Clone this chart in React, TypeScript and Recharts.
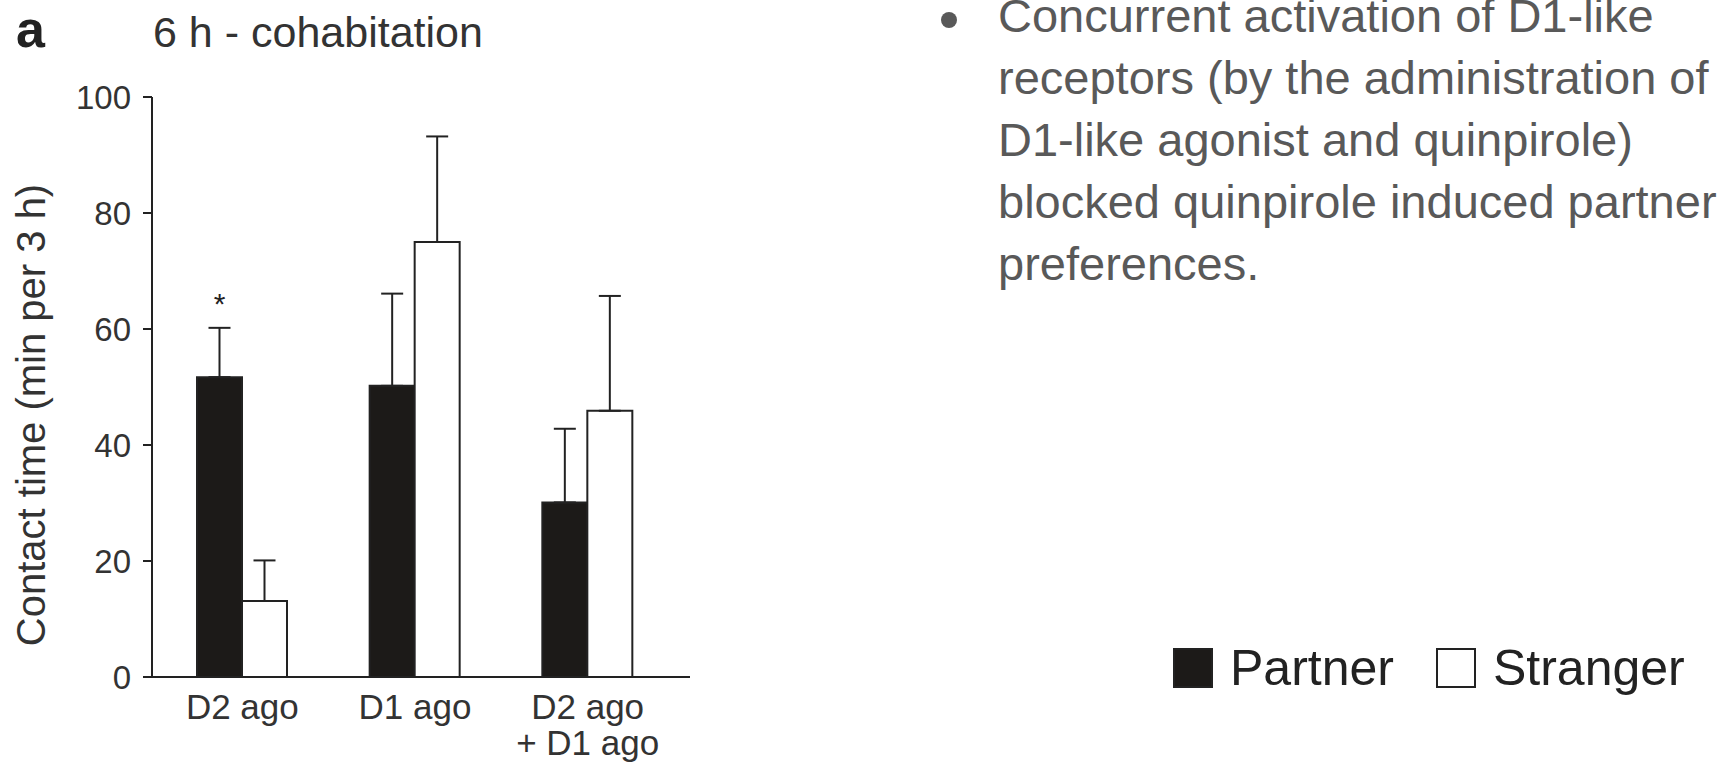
import React from 'react';
import { BarChart, Bar, XAxis, YAxis, ErrorBar, LabelList, Legend } from 'recharts';

const categories = ['D2 ago', 'D1 ago', 'D2 ago\n+ D1 ago'];
const partner = [51.7, 50.2, 30.1];
const partnerErr = [8.5, 15.9, 12.7];
const stranger = [13.1, 75.0, 45.9];
const strangerErr = [7.0, 18.2, 19.8];
const significance = ['*', '', ''];
const yTicks = [0, 20, 40, 60, 80, 100];

const bulletLines = [
  'Concurrent activation of D1-like',
  'receptors (by the administration of',
  'D1-like agonist and quinpirole)',
  'blocked quinpirole induced partner',
  'preferences.',
];

const FONT = '"Liberation Sans", Arial, Helvetica, sans-serif';
const INK = '#222';

const data = categories.map((name, i) => ({
  name,
  partner: partner[i],
  partnerErr: [0, partnerErr[i]],
  stranger: stranger[i],
  strangerErr: [0, strangerErr[i]],
  sig: significance[i],
}));

const CategoryTick = (props: any) => {
  const { x, y, payload } = props;
  const lines = String(payload.value).split('\n');
  return (
    <text x={x} y={y} textAnchor="middle" fill="#333" fontSize={35} fontFamily={FONT}>
      {lines.map((line, i) => (
        <tspan key={i} x={x} dy={i === 0 ? 34 : 36}>
          {line}
        </tspan>
      ))}
    </text>
  );
};

// star sits above the partner error cap; pixel-per-unit comes from the bar's own height
const StarLabel = (props: any) => {
  const { index, value } = props;
  if (!value) return null;
  const vb = props.viewBox ?? props;
  const { x, y, width, height } = vb;
  const perUnit = height / partner[index];
  const capY = y - partnerErr[index] * perUnit;
  return (
    <text x={x + width / 2} y={capY - 14} textAnchor="middle" fill={INK} fontSize={30} fontFamily={FONT}>
      {value}
    </text>
  );
};

const LegendContent = (props: any) => {
  const items = props.payload ?? [];
  return (
    <div style={{ display: 'flex', alignItems: 'center', fontFamily: FONT }}>
      {items.map((entry: any, i: number) => (
        <div key={i} style={{ display: 'flex', alignItems: 'center', marginRight: i === 0 ? 42 : 0 }}>
          <div
            style={{
              width: 40,
              height: 40,
              boxSizing: 'border-box',
              background: entry.color,
              border: `2.5px solid ${INK}`,
              marginRight: 17,
            }}
          />
          <span style={{ fontSize: 50, lineHeight: '40px', color: INK }}>{entry.value}</span>
        </div>
      ))}
    </div>
  );
};

export default function App() {
  return (
    <div
      style={{
        position: 'absolute',
        left: 0,
        top: 0,
        width: 1736,
        height: 774,
        background: '#fff',
        overflow: 'hidden',
        fontFamily: FONT,
      }}
    >
      <BarChart
        width={1736}
        height={774}
        data={data}
        margin={{ top: 97, right: 1046, bottom: 7, left: 92 }}
        barGap={0}
        barSize={45}
      >
        <XAxis
          dataKey="name"
          height={90}
          padding={{ left: 4, right: 16 }}
          axisLine={{ stroke: INK, strokeWidth: 2 }}
          tickLine={false}
          tickSize={0}
          tickMargin={8}
          interval={0}
          tick={<CategoryTick />}
        />
        <YAxis
          width={60}
          domain={[0, 100]}
          ticks={yTicks}
          axisLine={{ stroke: INK, strokeWidth: 2 }}
          tickLine={{ stroke: INK, strokeWidth: 2 }}
          tickSize={9}
          tickMargin={12}
          tick={{ fill: '#333', fontSize: 33, fontFamily: FONT }}
        />
        <Legend
          layout="horizontal"
          verticalAlign="middle"
          align="center"
          content={<LegendContent />}
          wrapperStyle={{ position: 'absolute', left: 1173, top: 648, width: 560, height: 40 }}
        />
        <Bar
          dataKey="partner"
          name="Partner"
          fill="#1c1a18"
          stroke={INK}
          strokeWidth={2}
          isAnimationActive={false}
        >
          <ErrorBar dataKey="partnerErr" width={11} stroke={INK} strokeWidth={2} direction="y" />
          <LabelList dataKey="sig" content={<StarLabel />} />
        </Bar>
        <Bar
          dataKey="stranger"
          name="Stranger"
          fill="#ffffff"
          stroke={INK}
          strokeWidth={2}
          isAnimationActive={false}
        >
          <ErrorBar dataKey="strangerErr" width={11} stroke={INK} strokeWidth={2} direction="y" />
        </Bar>
      </BarChart>

      <svg
        width={1736}
        height={774}
        style={{ position: 'absolute', left: 0, top: 0, pointerEvents: 'none' }}
        fontFamily={FONT}
      >
        <text x={16} y={47} fontSize={52} fontWeight="bold" fill={INK}>
          a
        </text>
        <text x={153} y={47} fontSize={43} fill="#333">
          6 h - cohabitation
        </text>
        <text
          x={31}
          y={415}
          fontSize={40}
          fill="#333"
          textAnchor="middle"
          dominantBaseline="central"
          transform="rotate(-90 31 415)"
        >
          Contact time (min per 3 h)
        </text>
        <circle cx={949} cy={20} r={8} fill="#595959" />
        {bulletLines.map((line, i) => (
          <text key={i} x={998} y={32 + i * 62} fontSize={47} fill="#595959">
            {line}
          </text>
        ))}
      </svg>
    </div>
  );
}
